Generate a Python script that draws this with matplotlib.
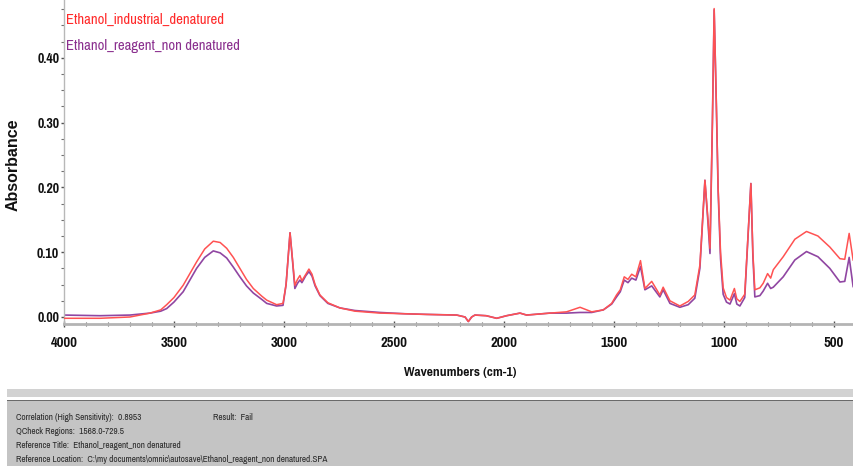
import matplotlib
matplotlib.use("Agg")
import matplotlib.pyplot as plt
from matplotlib.patches import Rectangle
from matplotlib.ticker import MultipleLocator, FormatStrFormatter

# ---------------- data ----------------
wavenumbers = [4000, 3836, 3700, 3609, 3560, 3533, 3500, 3458, 3397, 3360, 3321,
               3290, 3260, 3230, 3200, 3170, 3139, 3100, 3078, 3033, 3004, 2990,
               2972, 2961, 2950, 2938, 2927, 2918, 2900, 2886, 2872, 2858, 2836,
               2800, 2745, 2677, 2563, 2450, 2351, 2214, 2176, 2161, 2146, 2131,
               2080, 2032, 1987, 1926, 1896, 1790, 1714, 1653, 1600, 1547, 1509,
               1487, 1470, 1452, 1435, 1418, 1399, 1378, 1358, 1327, 1290, 1275,
               1244, 1199, 1161, 1131, 1108, 1099, 1085, 1071, 1062, 1051, 1043,
               1033, 1025, 1014, 1002, 987, 971, 951, 940, 926, 904, 890, 876,
               867, 858, 835, 820, 800, 786, 774, 729, 676, 623, 571, 517, 471,
               449, 429, 411]

abs_industrial = [-0.002, -0.002, 0.000, 0.006, 0.011, 0.019, 0.030, 0.049, 0.085, 0.105, 0.117,
                  0.115, 0.106, 0.092, 0.075, 0.058, 0.044, 0.032, 0.026, 0.019, 0.021, 0.050,
                  0.130, 0.090, 0.049, 0.058, 0.064, 0.056, 0.066, 0.074, 0.066, 0.050, 0.034,
                  0.022, 0.014, 0.009, 0.006, 0.005, 0.004, 0.003, 0.000, -0.007, 0.000, 0.003,
                  0.002, -0.002, 0.002, 0.006, 0.003, 0.006, 0.008, 0.015, 0.008, 0.011, 0.021,
                  0.034, 0.042, 0.062, 0.058, 0.066, 0.062, 0.087, 0.044, 0.055, 0.034, 0.046,
                  0.025, 0.017, 0.024, 0.034, 0.080, 0.130, 0.211, 0.150, 0.106, 0.300, 0.476,
                  0.330, 0.200, 0.100, 0.045, 0.030, 0.026, 0.044, 0.028, 0.024, 0.035, 0.120, 0.206,
                  0.100, 0.042, 0.045, 0.052, 0.067, 0.060, 0.073, 0.093, 0.120, 0.132, 0.125, 0.108, 0.090,
                  0.089, 0.129, 0.088]

abs_reagent = [0.003, 0.002, 0.003, 0.006, 0.009, 0.013, 0.023, 0.039, 0.075, 0.092, 0.102,
               0.099, 0.091, 0.077, 0.062, 0.048, 0.037, 0.027, 0.021, 0.017, 0.018, 0.050,
               0.130, 0.088, 0.044, 0.052, 0.057, 0.053, 0.064, 0.070, 0.063, 0.048, 0.033,
               0.021, 0.014, 0.010, 0.007, 0.005, 0.004, 0.003, 0.000, -0.007, 0.000, 0.003,
               0.002, -0.002, 0.002, 0.006, 0.003, 0.006, 0.006, 0.007, 0.007, 0.011, 0.020,
               0.031, 0.039, 0.057, 0.053, 0.060, 0.057, 0.078, 0.042, 0.048, 0.031, 0.042,
               0.021, 0.015, 0.019, 0.029, 0.075, 0.128, 0.211, 0.145, 0.098, 0.300, 0.474,
               0.325, 0.195, 0.090, 0.035, 0.023, 0.020, 0.036, 0.020, 0.017, 0.030, 0.118, 0.206,
               0.095, 0.031, 0.033, 0.040, 0.052, 0.044, 0.046, 0.062, 0.088, 0.101, 0.093, 0.075, 0.054,
               0.055, 0.092, 0.047]

series_names = ["Ethanol_industrial_denatured", "Ethanol_reagent_non denatured"]
x_ticks = [4000, 3500, 3000, 2500, 2000, 1500, 1000, 500]
info_lines = ["Correlation (High Sensitivity):  0.8953",
              "QCheck Regions:  1568.0-729.5",
              "Reference Title:  Ethanol_reagent_non denatured",
              "Reference Location:  C:\\my documents\\omnic\\autosave\\Ethanol_reagent_non denatured.SPA"]
result_text = "Result:  Fail"

# ---------------- figure ----------------
NARROW = ["Pragati Narrow", "PT Sans Narrow", "Liberation Sans", "DejaVu Sans"]
REG = ["Liberation Sans", "DejaVu Sans"]
W, H = 854, 466
fig = plt.figure(figsize=(W / 100, H / 100), dpi=100)
fig.patch.set_facecolor("white")

ax = fig.add_axes([64 / W, 1 - 324 / H, (W - 64) / W, 324 / H])
red = "#ff5252"
purple = "#9046a2"
ax.plot(wavenumbers, abs_reagent, color=purple, lw=1.2, zorder=2)
ax.plot(wavenumbers, abs_industrial, color=red, lw=1.1, zorder=3)

ax.set_xlim(4000, 407)
ax.set_ylim((317 - 324) / 648, 317 / 648)

for s in ["top", "right"]:
    ax.spines[s].set_visible(False)
ax.spines["left"].set_color("#b8b8b8")
ax.spines["left"].set_linewidth(1.0)
ax.spines["bottom"].set_color("#b4b4b4")
ax.spines["bottom"].set_linewidth(2.0)

ax.set_xticks(x_ticks)
ax.xaxis.set_minor_locator(MultipleLocator(100))
ax.yaxis.set_major_locator(MultipleLocator(0.10))
ax.yaxis.set_minor_locator(MultipleLocator(0.025))
ax.yaxis.set_major_formatter(FormatStrFormatter("%.2f"))

ax.tick_params(axis="x", which="major", direction="inout", length=5, width=1,
               color="#505050", pad=6)
ax.tick_params(axis="x", which="minor", direction="inout", length=3, width=0.8,
               color="#606060")
ax.tick_params(axis="y", which="major", direction="out", length=2.5, width=1,
               color="#505050", pad=1)
ax.tick_params(axis="y", which="minor", direction="out", length=2, width=0.8,
               color="#707070")
for lab in ax.get_xticklabels():
    lab.set_fontfamily(NARROW)
    lab.set_fontweight("bold")
    lab.set_fontsize(11.5)
    lab.set_color("#111111")
for lab in ax.get_yticklabels():
    lab.set_fontfamily(NARROW)
    lab.set_fontweight("bold")
    lab.set_fontsize(11)
    lab.set_color("#111111")

fig.text(460 / W, 1 - 373 / H, "Wavenumbers (cm-1)", ha="center", va="center",
         family=NARROW, weight="bold", fontsize=10.6, color="#111111")
fig.text(13 / W, 1 - 165 / H, "Absorbance", ha="center", va="center", rotation=90,
         family=REG, weight="bold", fontsize=11.5, color="#111111")

# series names (legend-like labels)
fig.text(66 / W, 1 - 20 / H, series_names[0], ha="left", va="center",
         family=NARROW, fontsize=11.5, color="#ff2a2a")
fig.text(66 / W, 1 - 46 / H, series_names[1], ha="left", va="center",
         family=NARROW, fontsize=11.5, color="#8a2f8e")

# bottom status panel
fig.patches.append(Rectangle((7 / W, 1 - 397 / H), 1, 8 / H, transform=fig.transFigure,
                             facecolor="#d2d2d2", edgecolor="none", zorder=0))
fig.patches.append(Rectangle((7 / W, 1 - 401 / H), 1, 1.3 / H, transform=fig.transFigure,
                             facecolor="#6a6a6a", edgecolor="none", zorder=0))
fig.patches.append(Rectangle((7 / W, 0), 1, 1 - 401 / H, transform=fig.transFigure,
                             facecolor="#c4c4c4", edgecolor="none", zorder=0))

ys = [417.5, 432, 445.5, 459]
for txt, yy in zip(info_lines, ys):
    fig.text(16 / W, 1 - yy / H, txt, ha="left", va="center", family=NARROW,
             fontsize=7.2, color="#2a2a2a")
fig.text(213 / W, 1 - ys[0] / H, result_text, ha="left", va="center", family=NARROW,
         fontsize=7.2, color="#2a2a2a")

fig.savefig("out.png", dpi=100, facecolor="white")
